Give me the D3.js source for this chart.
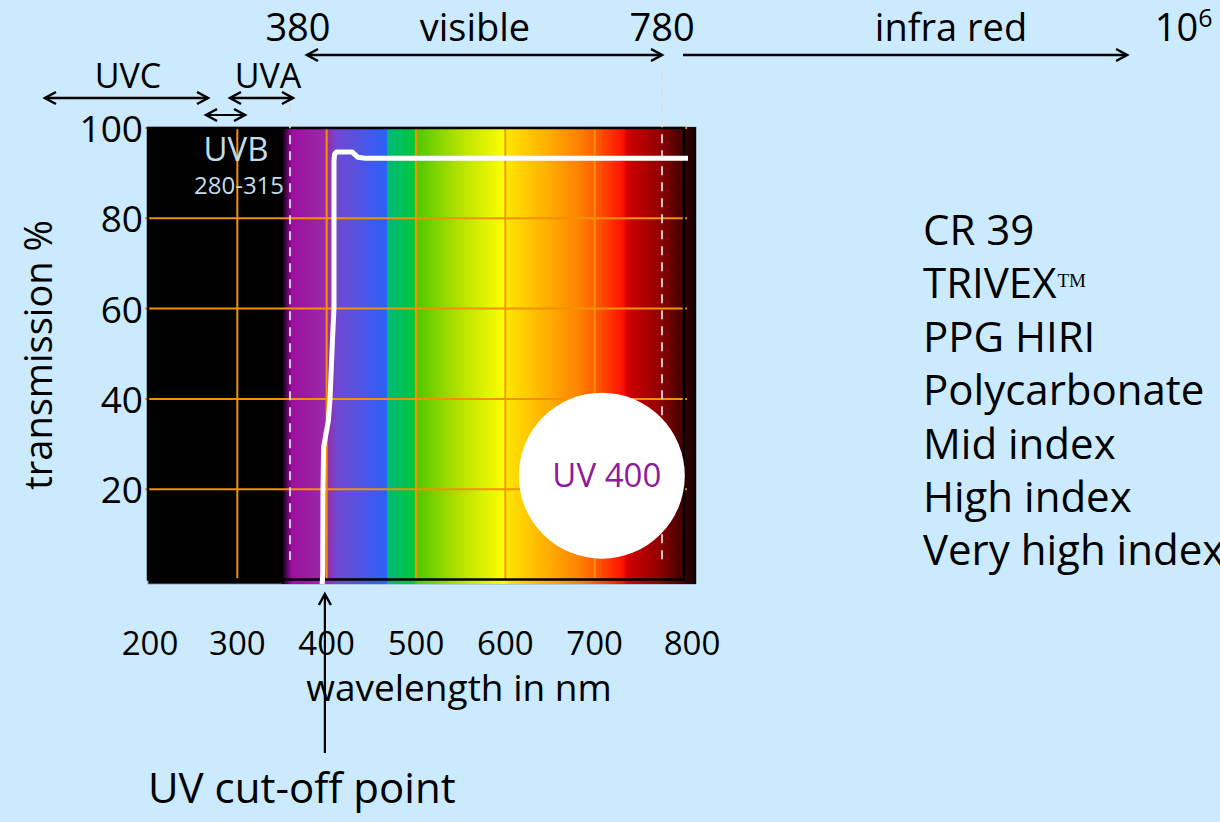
<!DOCTYPE html>
<html>
<head>
<meta charset="utf-8">
<script src="https://cdn.jsdelivr.net/npm/d3@7"></script>
<style>
  html, body { margin: 0; padding: 0; background: #cbeafd; }
  svg { display: block; }
  text { font-family: "Open Sans", "DejaVu Sans", sans-serif; }
</style>
</head>
<body>
<svg id="chart" width="1220" height="822"></svg>
<script>
// ---------- data ----------
const xTicks = [200, 300, 400, 500, 600, 700, 800];
const yTicks = [20, 40, 60, 80, 100];
const xTickLabels = ["200", "300", "400", "500", "600", "700", "800"];
const yTickLabels = ["20", "40", "60", "80", "100"];

// transmission curve (wavelength nm, transmission %)
const curveNm  = [395, 395.6, 395.9, 396.6, 399, 401.8, 403.7, 406, 408.2, 408.2, 408.8, 410.8, 428.4, 435, 442.9, 804.5];
const curvePct = [-1, 1.4, 20, 29.3, 32, 35, 39.8, 50.8, 60.4, 92.5, 94.2, 94.7, 94.7, 93.5, 93.3, 93.3];

// spectrum colour stops (nm, colour)
const spectrumNm = [350, 356.7, 361, 400.4, 411.6, 467.5, 468, 496.6, 501, 546, 599.6, 605, 646.7, 683.6, 706, 731.7, 737, 773, 798.8, 813.5];
const spectrumColors = ["#000000", "#6a0870", "#9c10a0", "#9a2ca8", "#7048d0", "#2a62f8", "#00b878", "#00c840", "#50c800", "#b0e000", "#ffff00", "#ffe000", "#ffb000", "#ff8000", "#ff5000", "#ff1000", "#d00000", "#900000", "#400000", "#100000"];

// dashed band boundaries (nm) and their vertical extent (%)
const boundaryNm = [359, 775.4];
const boundaryTop = [109, 112.8];
const boundaryBottom = 4.3;

// band arrows
const bandArrowNames = ["UVC", "UVA", "UVB", "visible", "infra red"];
const bandArrowFrom = [84.7, 291.8, 265, 378, 798.9];
const bandArrowTo   = [267.2, 362.3, 308.6, 775.4, 1296];
const bandArrowLeftHead  = [true, true, true, true, false];
const bandArrowRightHead = [true, true, true, true, true];

// top / band labels
const topLabels = ["380", "visible", "780", "infra red"];
const topLabelNm = [367.9, 566, 775.4, 1098.9];
const uvLabels = ["UVC", "UVA"];
const uvLabelNm = [177.6, 334.3];

// right-hand list of lens materials
const materials = ["CR 39", "TRIVEX", "PPG HIRI", "Polycarbonate", "Mid index", "High index", "Very high index"];

// UV 400 badge position (nm, %)
const badgeNm = 708;
const badgePct = 23;
const cutoffNm = 398;

// ---------- layout ----------
const svg = d3.select("#chart");
const x = d3.scaleLinear().domain([200, 800]).range([148, 684]);
const y = d3.scaleLinear().domain([0, 100]).range([579.5, 128]);
const plotNmMax = 813.5, plotPctMin = -1, plotPctMax = 100.2;

// defs: gradient
const defs = svg.append("defs");
const grad = defs.append("linearGradient")
  .attr("id", "spectrum")
  .attr("gradientUnits", "userSpaceOnUse")
  .attr("x1", x(spectrumNm[0])).attr("x2", x(spectrumNm[spectrumNm.length - 1]))
  .attr("y1", 0).attr("y2", 0);
const nmSpan = spectrumNm[spectrumNm.length - 1] - spectrumNm[0];
spectrumNm.forEach((nm, i) => {
  grad.append("stop")
    .attr("offset", (nm - spectrumNm[0]) / nmSpan)
    .attr("stop-color", spectrumColors[i]);
});

// plot background
svg.append("rect")
  .attr("x", x(200)).attr("y", y(plotPctMax))
  .attr("width", x(plotNmMax) - x(200)).attr("height", y(plotPctMin) - y(plotPctMax))
  .attr("fill", "#000").attr("stroke", "#8aa0b0").attr("stroke-width", 0.8);

svg.append("rect")
  .attr("x", x(spectrumNm[0])).attr("y", y(plotPctMax))
  .attr("width", x(plotNmMax) - x(spectrumNm[0])).attr("height", y(plotPctMin) - y(plotPctMax))
  .attr("fill", "url(#spectrum)");

// gridlines
const grid = svg.append("g").attr("stroke", "#f39200").attr("stroke-width", 2);
xTicks.filter(v => v > 200 && v < 800).forEach(v => {
  grid.append("line").attr("x1", x(v)).attr("x2", x(v)).attr("y1", y(100)).attr("y2", y(0));
});
yTicks.forEach(v => {
  grid.append("line").attr("x1", x(200) - 3).attr("x2", x(800) + 3).attr("y1", y(v)).attr("y2", y(v));
});

// inner black frame
svg.append("rect")
  .attr("x", x(200)).attr("y", y(100))
  .attr("width", x(800) - x(200)).attr("height", y(0) - y(100))
  .attr("fill", "none").attr("stroke", "#000").attr("stroke-width", 2.5);

// dashed boundaries
boundaryNm.forEach((nm, i) => {
  svg.append("line")
    .attr("x1", x(nm)).attr("x2", x(nm))
    .attr("y1", y(boundaryTop[i])).attr("y2", y(boundaryBottom))
    .attr("stroke", "#dcdce6").attr("stroke-opacity", 0.9)
    .attr("stroke-width", 2).attr("stroke-dasharray", "9,7");
});

// transmission curve
const line = d3.line().x(d => x(d[0])).y(d => y(d[1])).curve(d3.curveLinear);
svg.append("path")
  .datum(curveNm.map((nm, i) => [nm, curvePct[i]]))
  .attr("d", line)
  .attr("fill", "none").attr("stroke", "#fff").attr("stroke-width", 5)
  .attr("stroke-linejoin", "round").attr("stroke-linecap", "butt");

// UV 400 badge
svg.append("circle")
  .attr("cx", x(badgeNm)).attr("cy", y(badgePct)).attr("r", 83)
  .attr("fill", "#fff");
svg.append("text")
  .attr("x", x(badgeNm) + 5).attr("y", y(badgePct) + 11)
  .attr("text-anchor", "middle").attr("font-size", 33).attr("fill", "#8f1a9c")
  .text("UV 400");

// UVB labels inside plot
svg.append("text")
  .attr("x", x(298.5)).attr("y", 161).attr("text-anchor", "middle")
  .attr("font-size", 33).attr("fill", "#c4dbe8").text("UVB");
svg.append("text")
  .attr("x", x(301.9)).attr("y", 194).attr("text-anchor", "middle")
  .attr("font-size", 24).attr("fill", "#c4dbe8").text("280-315");

// y tick labels
yTicks.forEach((v, i) => {
  svg.append("text")
    .attr("x", 143).attr("y", y(v)).attr("dy", "0.38em")
    .attr("text-anchor", "end").attr("font-size", 37).attr("fill", "#000")
    .text(yTickLabels[i]);
});

// x tick labels
xTicks.forEach((v, i) => {
  svg.append("text")
    .attr("x", x(v) + (v === 200 ? 2 : v === 800 ? 8 : 0)).attr("y", 655)
    .attr("text-anchor", "middle").attr("font-size", 33).attr("fill", "#000")
    .text(xTickLabels[i]);
});

// axis titles
svg.append("text")
  .attr("x", 459).attr("y", 701).attr("text-anchor", "middle")
  .attr("font-size", 37).attr("fill", "#000").text("wavelength in nm");
svg.append("text")
  .attr("transform", "translate(52,355) rotate(-90)")
  .attr("text-anchor", "middle").attr("font-size", 38).attr("fill", "#000")
  .text("transmission %");

// arrow helper
function arrowHead(g, xTip, yTip, dir) {
  const s = 11, w = 6;
  let d;
  if (dir === "l") d = `M${xTip + s},${yTip - w}L${xTip},${yTip}L${xTip + s},${yTip + w}`;
  else if (dir === "r") d = `M${xTip - s},${yTip - w}L${xTip},${yTip}L${xTip - s},${yTip + w}`;
  else d = `M${xTip - w},${yTip + s}L${xTip},${yTip}L${xTip + w},${yTip + s}`;
  g.append("path").attr("d", d).attr("fill", "none").attr("stroke", "#000")
    .attr("stroke-width", 2.5).attr("stroke-linejoin", "miter");
}

// band arrows
const arrowRows = { "UVC": 98, "UVA": 98, "UVB": 115, "visible": 55, "infra red": 55 };
const arrows = svg.append("g");
bandArrowNames.forEach((name, i) => {
  const yy = arrowRows[name];
  const x1 = x(bandArrowFrom[i]), x2 = x(bandArrowTo[i]);
  arrows.append("line").attr("x1", x1).attr("x2", x2).attr("y1", yy).attr("y2", yy)
    .attr("stroke", "#000").attr("stroke-width", name === "UVB" ? 1.8 : 2.5);
  if (bandArrowLeftHead[i]) arrowHead(arrows, x1, yy, "l");
  if (bandArrowRightHead[i]) arrowHead(arrows, x2, yy, "r");
});

// top labels
topLabels.forEach((t, i) => {
  svg.append("text")
    .attr("x", x(topLabelNm[i])).attr("y", 41).attr("text-anchor", "middle")
    .attr("font-size", 38).attr("fill", "#000").text(t);
});
const ten6 = svg.append("text")
  .attr("x", x(1327)).attr("y", 41).attr("font-size", 38).attr("fill", "#000");
ten6.append("tspan").text("10");
ten6.append("tspan").attr("dy", -14).attr("font-size", 25).text("6");

uvLabels.forEach((t, i) => {
  svg.append("text")
    .attr("x", x(uvLabelNm[i])).attr("y", 88).attr("text-anchor", "middle")
    .attr("font-size", 34).attr("fill", "#000").text(t);
});

// cut-off arrow
const cx = x(cutoffNm);
svg.append("line").attr("x1", cx).attr("x2", cx).attr("y1", 594).attr("y2", 753)
  .attr("stroke", "#000").attr("stroke-width", 2.2);
arrowHead(svg, cx, 594, "u");
svg.append("text")
  .attr("x", 148).attr("y", 803).attr("font-size", 42).attr("fill", "#000")
  .text("UV cut-off point");

// materials list
materials.forEach((m, i) => {
  const t = svg.append("text")
    .attr("x", 923).attr("y", 245 + i * 53.4)
    .attr("font-size", 42).attr("fill", "#000");
  t.append("tspan").text(m);
  if (m === "TRIVEX") {
    t.append("tspan").attr("font-family", "Liberation Serif, serif")
      .attr("font-size", 19).attr("dy", -11).attr("dx", 1).text("TM");
  }
});
</script>
</body>
</html>
